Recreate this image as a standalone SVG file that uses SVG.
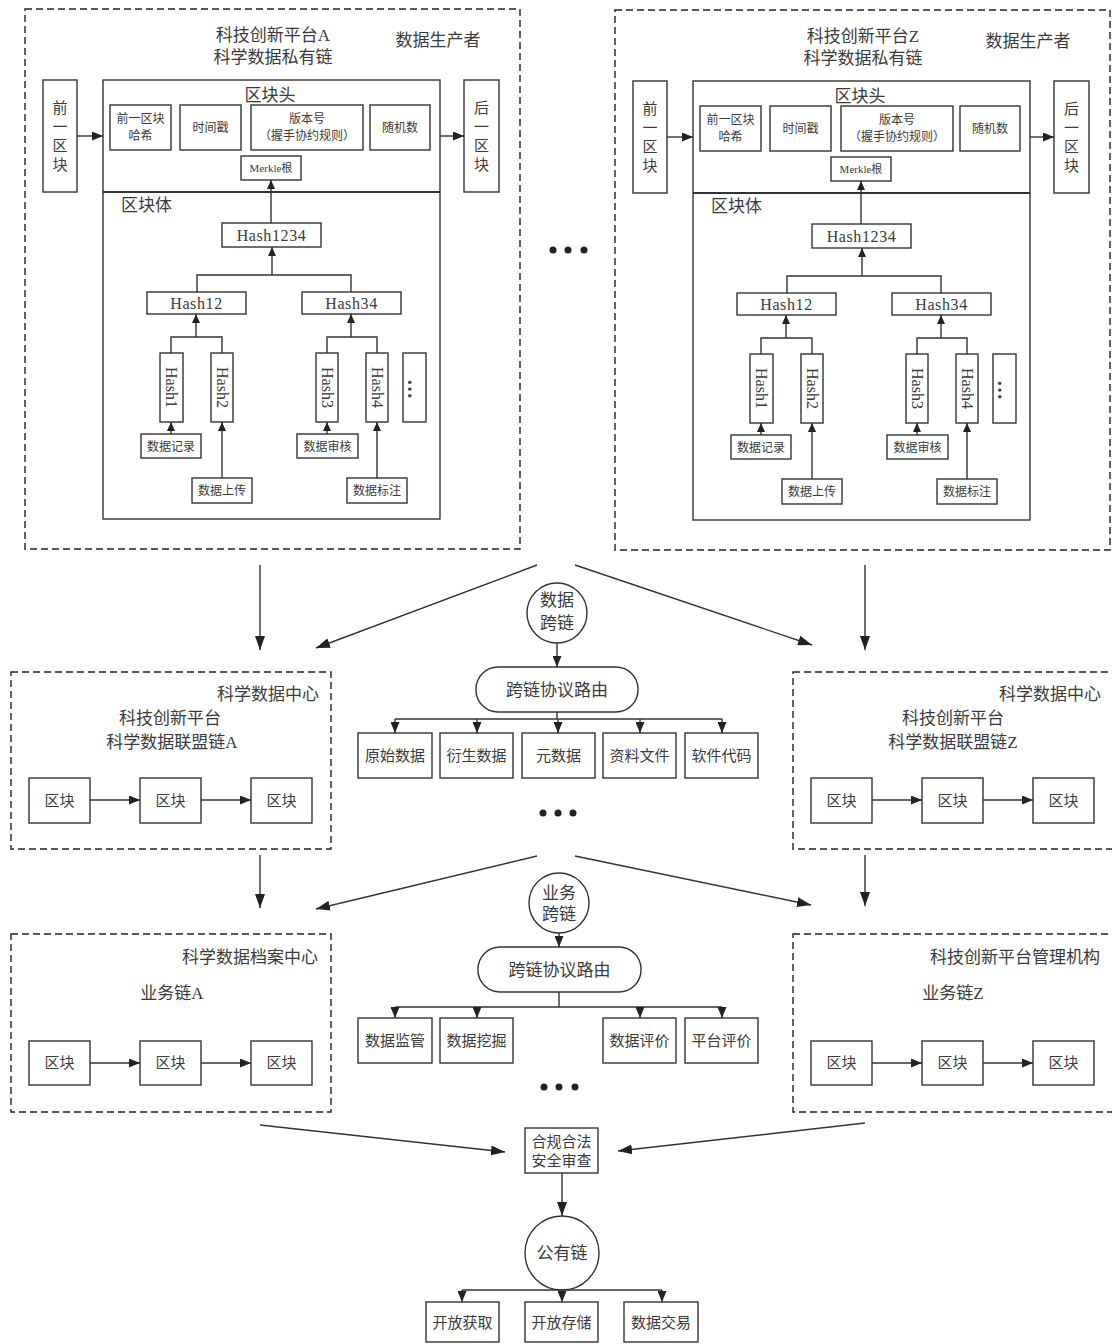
<svg xmlns="http://www.w3.org/2000/svg" width="1112" height="1344" viewBox="0 0 1112 1344">
<style>
.t{font-family:"Liberation Serif","Noto Sans CJK SC",serif;fill:#3a3a3a;text-anchor:middle}
.s{text-anchor:start}
.f11{font-size:11px}.f12{font-size:12px}.f15{font-size:15px}.f16{font-size:16px}.f17{font-size:17px}
.box{fill:#fff;stroke:#333;stroke-width:1.4}
.dash{fill:none;stroke:#222;stroke-width:1.4;stroke-dasharray:7 4}
.ln{fill:none;stroke:#333;stroke-width:1.4}
.big{marker-end:url(#ab)}.mid{marker-end:url(#am)}.sm{marker-end:url(#as)}
.vd{font-size:20px;font-weight:bold}
</style>
<defs>
<marker id="ab" markerUnits="userSpaceOnUse" markerWidth="14" markerHeight="10" refX="14" refY="5" orient="auto"><path d="M0,0 L14,5 L0,10 z" fill="#222"/></marker>
<marker id="am" markerUnits="userSpaceOnUse" markerWidth="11" markerHeight="9" refX="11" refY="4.5" orient="auto"><path d="M0,0 L11,4.5 L0,9 z" fill="#222"/></marker>
<marker id="as" markerUnits="userSpaceOnUse" markerWidth="9" markerHeight="8" refX="9" refY="4" orient="auto"><path d="M0,0 L9,4 L0,8 z" fill="#222"/></marker>
</defs>
<rect width="1112" height="1344" fill="#fff"/>

<!-- Panel A (private chain) -->
<g id="panelA">
<rect class="dash" x="25" y="9" width="495" height="540"/>
<text class="t f17" x="273" y="41">科技创新平台A</text>
<text class="t f17" x="273" y="63">科学数据私有链</text>
<text class="t f17" x="438" y="46">数据生产者</text>
<g id="a-prev"><rect class="box" x="43" y="80" width="34" height="112"/>
<text class="t f15" x="60" y="113">前</text><text class="t f15" x="60" y="132">一</text><text class="t f15" x="60" y="151">区</text><text class="t f15" x="60" y="170">块</text></g>
<g id="a-next"><rect class="box" x="464" y="80" width="35" height="112"/>
<text class="t f15" x="481.5" y="113">后</text><text class="t f15" x="481.5" y="132">一</text><text class="t f15" x="481.5" y="151">区</text><text class="t f15" x="481.5" y="170">块</text></g>
<g id="a-block"><rect class="box" x="103" y="80" width="337" height="439"/>
<line x1="103" y1="192" x2="440" y2="192" stroke="#333" stroke-width="2.2"/>
<text class="t f17" x="270" y="101">区块头</text>
<text class="t f17 s" x="121" y="211">区块体</text></g>
<g id="a-prevhash"><rect class="box" x="110" y="105" width="61" height="45"/><text class="t f12" x="140.5" y="123">前一区块</text><text class="t f12" x="140.5" y="140">哈希</text></g>
<g id="a-time"><rect class="box" x="180" y="105" width="61" height="45"/><text class="t f12" x="210.5" y="132">时间戳</text></g>
<g id="a-ver"><rect class="box" x="251" y="105" width="112" height="45"/><text class="t f12" x="307" y="123">版本号</text><text class="t f12" x="307" y="140">（握手协约规则）</text></g>
<g id="a-nonce"><rect class="box" x="370" y="105" width="60" height="45"/><text class="t f12" x="400" y="132">随机数</text></g>
<g id="a-merkle"><rect class="box" x="241" y="156" width="60" height="24"/><text class="t f11" x="271" y="172">Merkle根</text></g>
<g id="a-h1234"><rect class="box" x="222" y="223" width="99" height="24"/><text class="t f16" x="271.5" y="241" letter-spacing="0.6">Hash1234</text></g>
<g id="a-h12"><rect class="box" x="147" y="292" width="99" height="22"/><text class="t f16" x="196.5" y="309" letter-spacing="0.6">Hash12</text></g>
<g id="a-h34"><rect class="box" x="302" y="292" width="99" height="22"/><text class="t f16" x="351.5" y="309" letter-spacing="0.6">Hash34</text></g>
<g id="a-h1"><rect class="box" x="160" y="353" width="23" height="69"/><text class="t f16" transform="translate(171.5,387.5) rotate(90)" dominant-baseline="central">Hash1</text></g>
<g id="a-h2"><rect class="box" x="211" y="353" width="22" height="69"/><text class="t f16" transform="translate(222,387.5) rotate(90)" dominant-baseline="central">Hash2</text></g>
<g id="a-h3"><rect class="box" x="316" y="353" width="22" height="69"/><text class="t f16" transform="translate(327,387.5) rotate(90)" dominant-baseline="central">Hash3</text></g>
<g id="a-h4"><rect class="box" x="366" y="353" width="22" height="69"/><text class="t f16" transform="translate(377,387.5) rotate(90)" dominant-baseline="central">Hash4</text></g>
<g id="a-more"><rect class="box" x="403" y="353" width="23" height="69"/><text class="t vd" transform="translate(414.5,389) rotate(90)" dominant-baseline="central">…</text></g>
<g id="a-rec"><rect class="box" x="141" y="434" width="60" height="24"/><text class="t f12" x="171" y="450.5">数据记录</text></g>
<g id="a-up"><rect class="box" x="192" y="478" width="60" height="25"/><text class="t f12" x="222" y="495">数据上传</text></g>
<g id="a-aud"><rect class="box" x="297" y="434" width="61" height="24"/><text class="t f12" x="327.5" y="450.5">数据审核</text></g>
<g id="a-lab"><rect class="box" x="347" y="478" width="60" height="25"/><text class="t f12" x="377" y="495">数据标注</text></g>
</g>

<!-- Panel Z (private chain) -->
<g id="panelZ" transform="translate(590,1)">
<rect class="dash" x="25" y="9" width="495" height="540"/>
<text class="t f17" x="273" y="41">科技创新平台Z</text>
<text class="t f17" x="273" y="63">科学数据私有链</text>
<text class="t f17" x="438" y="46">数据生产者</text>
<g id="z-prev"><rect class="box" x="43" y="80" width="34" height="112"/>
<text class="t f15" x="60" y="113">前</text><text class="t f15" x="60" y="132">一</text><text class="t f15" x="60" y="151">区</text><text class="t f15" x="60" y="170">块</text></g>
<g id="z-next"><rect class="box" x="464" y="80" width="35" height="112"/>
<text class="t f15" x="481.5" y="113">后</text><text class="t f15" x="481.5" y="132">一</text><text class="t f15" x="481.5" y="151">区</text><text class="t f15" x="481.5" y="170">块</text></g>
<g id="z-block"><rect class="box" x="103" y="80" width="337" height="439"/>
<line x1="103" y1="192" x2="440" y2="192" stroke="#333" stroke-width="2.2"/>
<text class="t f17" x="270" y="101">区块头</text>
<text class="t f17 s" x="121" y="211">区块体</text></g>
<g id="z-prevhash"><rect class="box" x="110" y="105" width="61" height="45"/><text class="t f12" x="140.5" y="123">前一区块</text><text class="t f12" x="140.5" y="140">哈希</text></g>
<g id="z-time"><rect class="box" x="180" y="105" width="61" height="45"/><text class="t f12" x="210.5" y="132">时间戳</text></g>
<g id="z-ver"><rect class="box" x="251" y="105" width="112" height="45"/><text class="t f12" x="307" y="123">版本号</text><text class="t f12" x="307" y="140">（握手协约规则）</text></g>
<g id="z-nonce"><rect class="box" x="370" y="105" width="60" height="45"/><text class="t f12" x="400" y="132">随机数</text></g>
<g id="z-merkle"><rect class="box" x="241" y="156" width="60" height="24"/><text class="t f11" x="271" y="172">Merkle根</text></g>
<g id="z-h1234"><rect class="box" x="222" y="223" width="99" height="24"/><text class="t f16" x="271.5" y="241" letter-spacing="0.6">Hash1234</text></g>
<g id="z-h12"><rect class="box" x="147" y="292" width="99" height="22"/><text class="t f16" x="196.5" y="309" letter-spacing="0.6">Hash12</text></g>
<g id="z-h34"><rect class="box" x="302" y="292" width="99" height="22"/><text class="t f16" x="351.5" y="309" letter-spacing="0.6">Hash34</text></g>
<g id="z-h1"><rect class="box" x="160" y="353" width="23" height="69"/><text class="t f16" transform="translate(171.5,387.5) rotate(90)" dominant-baseline="central">Hash1</text></g>
<g id="z-h2"><rect class="box" x="211" y="353" width="22" height="69"/><text class="t f16" transform="translate(222,387.5) rotate(90)" dominant-baseline="central">Hash2</text></g>
<g id="z-h3"><rect class="box" x="316" y="353" width="22" height="69"/><text class="t f16" transform="translate(327,387.5) rotate(90)" dominant-baseline="central">Hash3</text></g>
<g id="z-h4"><rect class="box" x="366" y="353" width="22" height="69"/><text class="t f16" transform="translate(377,387.5) rotate(90)" dominant-baseline="central">Hash4</text></g>
<g id="z-more"><rect class="box" x="403" y="353" width="23" height="69"/><text class="t vd" transform="translate(414.5,389) rotate(90)" dominant-baseline="central">…</text></g>
<g id="z-rec"><rect class="box" x="141" y="434" width="60" height="24"/><text class="t f12" x="171" y="450.5">数据记录</text></g>
<g id="z-up"><rect class="box" x="192" y="478" width="60" height="25"/><text class="t f12" x="222" y="495">数据上传</text></g>
<g id="z-aud"><rect class="box" x="297" y="434" width="61" height="24"/><text class="t f12" x="327.5" y="450.5">数据审核</text></g>
<g id="z-lab"><rect class="box" x="347" y="478" width="60" height="25"/><text class="t f12" x="377" y="495">数据标注</text></g>
</g>

<g id="dots" fill="#222">
<circle cx="553" cy="250" r="3.5"/><circle cx="568" cy="250" r="3.5"/><circle cx="584" cy="250" r="3.5"/>
<circle cx="543" cy="813" r="3.5"/><circle cx="558" cy="813" r="3.5"/><circle cx="573" cy="813" r="3.5"/>
<circle cx="544" cy="1087" r="3.5"/><circle cx="559" cy="1087" r="3.5"/><circle cx="575" cy="1087" r="3.5"/>
</g>

<!-- Data cross-chain -->
<g id="datacross"><circle class="box" cx="557" cy="613" r="30"/><text class="t f17" x="557" y="606">数据</text><text class="t f17" x="557" y="629">跨链</text></g>
<g id="route1"><rect class="box" x="476" y="667" width="162" height="45" rx="22"/><text class="t f17" x="557" y="696">跨链协议路由</text></g>
<g id="raw"><rect class="box" x="358" y="733" width="74" height="45"/><text class="t f15" x="395" y="761">原始数据</text></g>
<g id="derived"><rect class="box" x="440" y="733" width="73" height="45"/><text class="t f15" x="476.5" y="761">衍生数据</text></g>
<g id="meta"><rect class="box" x="522" y="733" width="73" height="45"/><text class="t f15" x="558.5" y="761">元数据</text></g>
<g id="docs"><rect class="box" x="603" y="733" width="73" height="45"/><text class="t f15" x="639.5" y="761">资料文件</text></g>
<g id="code"><rect class="box" x="685" y="733" width="73" height="45"/><text class="t f15" x="721.5" y="761">软件代码</text></g>

<!-- Consortium chains -->
<g id="consA"><rect class="dash" x="11" y="672" width="320" height="177"/>
<text class="t f17" x="268" y="700">科学数据中心</text>
<text class="t f17" x="170" y="724">科技创新平台</text>
<text class="t f17" x="172" y="748">科学数据联盟链A</text></g>
<g id="consA-b1"><rect class="box" x="29" y="778" width="61" height="45"/><text class="t f15" x="59.5" y="806">区块</text></g>
<g id="consA-b2"><rect class="box" x="140" y="778" width="61" height="45"/><text class="t f15" x="170.5" y="806">区块</text></g>
<g id="consA-b3"><rect class="box" x="251" y="778" width="61" height="45"/><text class="t f15" x="281.5" y="806">区块</text></g>
<g id="consZ"><rect class="dash" x="793" y="672" width="330" height="177"/>
<text class="t f17" x="1050" y="700">科学数据中心</text>
<text class="t f17" x="953" y="724">科技创新平台</text>
<text class="t f17" x="953" y="748">科学数据联盟链Z</text></g>
<g id="consZ-b1"><rect class="box" x="811" y="778" width="61" height="45"/><text class="t f15" x="841.5" y="806">区块</text></g>
<g id="consZ-b2"><rect class="box" x="922" y="778" width="61" height="45"/><text class="t f15" x="952.5" y="806">区块</text></g>
<g id="consZ-b3"><rect class="box" x="1033" y="778" width="61" height="45"/><text class="t f15" x="1063.5" y="806">区块</text></g>

<!-- Business cross-chain -->
<g id="buscross"><circle class="box" cx="559" cy="903" r="30"/><text class="t f17" x="559" y="899">业务</text><text class="t f17" x="559" y="920">跨链</text></g>
<g id="route2"><rect class="box" x="478" y="947" width="163" height="45" rx="22"/><text class="t f17" x="559.5" y="976">跨链协议路由</text></g>
<g id="supervise"><rect class="box" x="358" y="1018" width="74" height="45"/><text class="t f15" x="395" y="1046">数据监管</text></g>
<g id="mining"><rect class="box" x="440" y="1018" width="73" height="45"/><text class="t f15" x="476.5" y="1046">数据挖掘</text></g>
<g id="dataeval"><rect class="box" x="603" y="1018" width="73" height="45"/><text class="t f15" x="639.5" y="1046">数据评价</text></g>
<g id="plateval"><rect class="box" x="685" y="1018" width="73" height="45"/><text class="t f15" x="721.5" y="1046">平台评价</text></g>

<g id="busA"><rect class="dash" x="11" y="934" width="320" height="178"/>
<text class="t f17" x="250" y="963">科学数据档案中心</text>
<text class="t f17" x="172" y="999">业务链A</text></g>
<g id="busA-b1"><rect class="box" x="29" y="1041" width="61" height="44"/><text class="t f15" x="59.5" y="1068">区块</text></g>
<g id="busA-b2"><rect class="box" x="140" y="1041" width="61" height="44"/><text class="t f15" x="170.5" y="1068">区块</text></g>
<g id="busA-b3"><rect class="box" x="251" y="1041" width="61" height="44"/><text class="t f15" x="281.5" y="1068">区块</text></g>
<g id="busZ"><rect class="dash" x="793" y="934" width="330" height="178"/>
<text class="t f17" x="1015" y="963">科技创新平台管理机构</text>
<text class="t f17" x="953" y="999">业务链Z</text></g>
<g id="busZ-b1"><rect class="box" x="811" y="1041" width="61" height="44"/><text class="t f15" x="841.5" y="1068">区块</text></g>
<g id="busZ-b2"><rect class="box" x="922" y="1041" width="61" height="44"/><text class="t f15" x="952.5" y="1068">区块</text></g>
<g id="busZ-b3"><rect class="box" x="1033" y="1041" width="61" height="44"/><text class="t f15" x="1063.5" y="1068">区块</text></g>

<!-- Compliance and public chain -->
<g id="compliance"><rect class="box" x="525" y="1128" width="73" height="45"/><text class="t f15" x="561.5" y="1147">合规合法</text><text class="t f15" x="561.5" y="1166">安全审查</text></g>
<g id="public"><circle class="box" cx="562" cy="1253" r="37"/><text class="t f17" x="562" y="1259">公有链</text></g>
<g id="openaccess"><rect class="box" x="426" y="1302" width="73" height="40"/><text class="t f15" x="462.5" y="1328">开放获取</text></g>
<g id="openstore"><rect class="box" x="525" y="1302" width="73" height="40"/><text class="t f15" x="561.5" y="1328">开放存储</text></g>
<g id="trade"><rect class="box" x="624" y="1302" width="74" height="40"/><text class="t f15" x="661" y="1328">数据交易</text></g>

<g id="connectors">
<g id="conn-A">
<line class="ln mid" x1="77" y1="136" x2="103" y2="136"/>
<line class="ln mid" x1="440" y1="136" x2="464" y2="136"/>
<line class="ln sm" x1="271" y1="223" x2="271" y2="180"/>
<line class="ln sm" x1="272" y1="275" x2="272" y2="247"/>
<polyline class="ln" points="197,292 197,275 351,275 351,292"/>
<line class="ln sm" x1="196" y1="337" x2="196" y2="314"/>
<polyline class="ln" points="171,353 171,337 222,337 222,353"/>
<line class="ln sm" x1="351" y1="337" x2="351" y2="314"/>
<polyline class="ln" points="327,353 327,337 377,337 377,353"/>
<line class="ln sm" x1="171" y1="434" x2="171" y2="422"/>
<line class="ln sm" x1="222" y1="478" x2="222" y2="422"/>
<line class="ln sm" x1="327" y1="434" x2="327" y2="422"/>
<line class="ln sm" x1="377" y1="478" x2="377" y2="422"/>
</g>
<g id="conn-Z" transform="translate(590,1)">
<line class="ln mid" x1="77" y1="136" x2="103" y2="136"/>
<line class="ln mid" x1="440" y1="136" x2="464" y2="136"/>
<line class="ln sm" x1="271" y1="223" x2="271" y2="180"/>
<line class="ln sm" x1="272" y1="275" x2="272" y2="247"/>
<polyline class="ln" points="197,292 197,275 351,275 351,292"/>
<line class="ln sm" x1="196" y1="337" x2="196" y2="314"/>
<polyline class="ln" points="171,353 171,337 222,337 222,353"/>
<line class="ln sm" x1="351" y1="337" x2="351" y2="314"/>
<polyline class="ln" points="327,353 327,337 377,337 377,353"/>
<line class="ln sm" x1="171" y1="434" x2="171" y2="422"/>
<line class="ln sm" x1="222" y1="478" x2="222" y2="422"/>
<line class="ln sm" x1="327" y1="434" x2="327" y2="422"/>
<line class="ln sm" x1="377" y1="478" x2="377" y2="422"/>
</g>
<line class="ln big" x1="260" y1="565" x2="260" y2="650"/>
<line class="ln big" x1="537" y1="565" x2="316" y2="648"/>
<line class="ln big" x1="575" y1="565" x2="812" y2="645"/>
<line class="ln big" x1="865" y1="565" x2="865" y2="650"/>
<line class="ln mid" x1="557" y1="643" x2="557" y2="667"/>
<polyline class="ln" points="557,712 557,719"/>
<polyline class="ln" points="395,719 722,719"/>
<line class="ln mid" x1="395" y1="719" x2="395" y2="733"/>
<line class="ln mid" x1="477" y1="719" x2="477" y2="733"/>
<line class="ln mid" x1="558" y1="719" x2="558" y2="733"/>
<line class="ln mid" x1="640" y1="719" x2="640" y2="733"/>
<line class="ln mid" x1="722" y1="719" x2="722" y2="733"/>
<line class="ln mid" x1="90" y1="800" x2="140" y2="800"/>
<line class="ln mid" x1="201" y1="800" x2="251" y2="800"/>
<line class="ln mid" x1="872" y1="800" x2="922" y2="800"/>
<line class="ln mid" x1="983" y1="800" x2="1033" y2="800"/>
<line class="ln big" x1="260" y1="855" x2="260" y2="908"/>
<line class="ln big" x1="537" y1="856" x2="316" y2="909"/>
<line class="ln big" x1="575" y1="856" x2="811" y2="905"/>
<line class="ln big" x1="865" y1="855" x2="865" y2="906"/>
<line class="ln mid" x1="559" y1="933" x2="559" y2="947"/>
<polyline class="ln" points="559,992 559,1007"/>
<polyline class="ln" points="395,1007 722,1007"/>
<line class="ln mid" x1="395" y1="1007" x2="395" y2="1018"/>
<line class="ln mid" x1="477" y1="1007" x2="477" y2="1018"/>
<line class="ln mid" x1="640" y1="1007" x2="640" y2="1018"/>
<line class="ln mid" x1="722" y1="1007" x2="722" y2="1018"/>
<line class="ln mid" x1="90" y1="1063" x2="140" y2="1063"/>
<line class="ln mid" x1="201" y1="1063" x2="251" y2="1063"/>
<line class="ln mid" x1="872" y1="1063" x2="922" y2="1063"/>
<line class="ln mid" x1="983" y1="1063" x2="1033" y2="1063"/>
<line class="ln big" x1="260" y1="1125" x2="505" y2="1152"/>
<line class="ln big" x1="865" y1="1123" x2="618" y2="1151"/>
<line class="ln big" x1="562" y1="1173" x2="562" y2="1216"/>
<polyline class="ln" points="462,1290 662,1290"/>
<line class="ln mid" x1="462" y1="1290" x2="462" y2="1302"/>
<line class="ln mid" x1="562" y1="1290" x2="562" y2="1302"/>
<line class="ln mid" x1="662" y1="1290" x2="662" y2="1302"/>
</g>
</svg>
